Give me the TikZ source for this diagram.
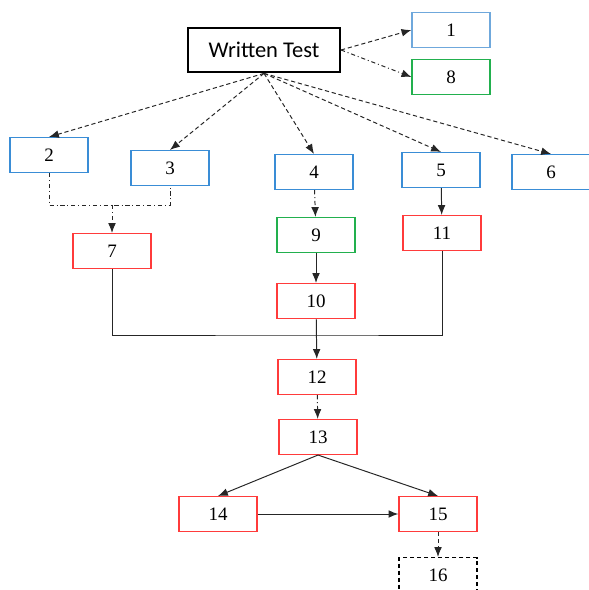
\documentclass[tikz,border=0pt]{standalone}
\usepackage{fontspec}
\setmainfont{Liberation Serif}
\newfontfamily\testfont{Carlito}
\usetikzlibrary{arrows.meta}
\definecolor{boxblue}{HTML}{3A8DD6}
\definecolor{lightblue}{HTML}{6FA8DC}
\definecolor{boxgreen}{HTML}{22B04E}
\definecolor{boxred}{HTML}{FF3B3B}

\begin{document}
\begin{tikzpicture}[x=0.025cm, y=-0.025cm]
                \useasboundingbox (0,0) rectangle (589,590);
                \begin{scope}[every node/.style={draw, rectangle, line width=0.9pt, minimum width=1.95cm, minimum height=0.87cm, inner sep=1, font=\fontsize{13.5}{16}\selectfont}]
                        \node [draw=black, line width=1.4pt, minimum width=3.8cm, minimum height=1.12cm, font=\testfont\fontsize{16}{18}\selectfont] (W) at (264,50) {Written Test};
                        \node [draw=lightblue] (n1) at (451,30) {1};
                        \node [draw=boxgreen] (n8) at (451,77) {8};
                        \node [draw=boxblue] (n2) at (49,155) {2};
                        \node [draw=boxblue] (n3) at (170,168) {3};
                        \node [draw=boxblue] (n4) at (314,172) {4};
                        \node [draw=boxblue] (n5) at (441,170) {5};
                        \node [draw=boxblue] (n6) at (551,172) {6};
                        \node [draw=boxred] (n7) at (112,251) {7};
                        \node [draw=boxgreen] (n9) at (316,235) {9};
                        \node [draw=boxred] (n11) at (442,233) {11};
                        \node [draw=boxred] (n10) at (316,301) {10};
                        \node [draw=boxred] (n12) at (317,377) {12};
                        \node [draw=boxred] (n13) at (318,437) {13};
                        \node [draw=boxred] (n14) at (218,514) {14};
                        \node [draw=boxred] (n15) at (438,514) {15};
                        \node [draw=black, densely dashed] (n16) at (438,575) {16};
                \end{scope}
                \coordinate (J) at (112,205);
                \coordinate (M) at (316,335);
                \begin{scope}[every edge/.style={draw=black!85, line width=0.7pt, -{Latex[length=7pt, width=5.5pt]}}]
                        \path (W.east) edge [densely dashed] (n1.west);
                        \path (W.east) edge [dash dot] (n8.west);
                        \path (W.south) edge [densely dashed] (n2.north);
                        \path (W.south) edge [densely dashed] (n3.north);
                        \path (W.south) edge [densely dashed] (n4.north);
                        \path (W.south) edge [densely dashed] (n5.north);
                        \path (W.south) edge [densely dashed] (n6.north);
                        \draw [black!85, line width=0.7pt, dash dot] (n2.south) |- (J) -| (n3.south);
                        \path (J) edge [dash dot] (n7);
                        \path (n4) edge [dash dot] (n9);
                        \path (n5) edge (n11);
                        \path (n9) edge (n10);
                        \draw [black!85, line width=0.7pt] (n7.south) |- (M) -| (n11.south);
                        \path (n10) edge (n12);
                        \path (n12) edge [dash dot] (n13);
                        \path (n13.south) edge (n14.north);
                        \path (n13.south) edge (n15.north);
                        \path (n14) edge (n15);
                        \path (n15) edge [densely dashed] (n16);
                \end{scope}
        \end{tikzpicture}
\end{document}
